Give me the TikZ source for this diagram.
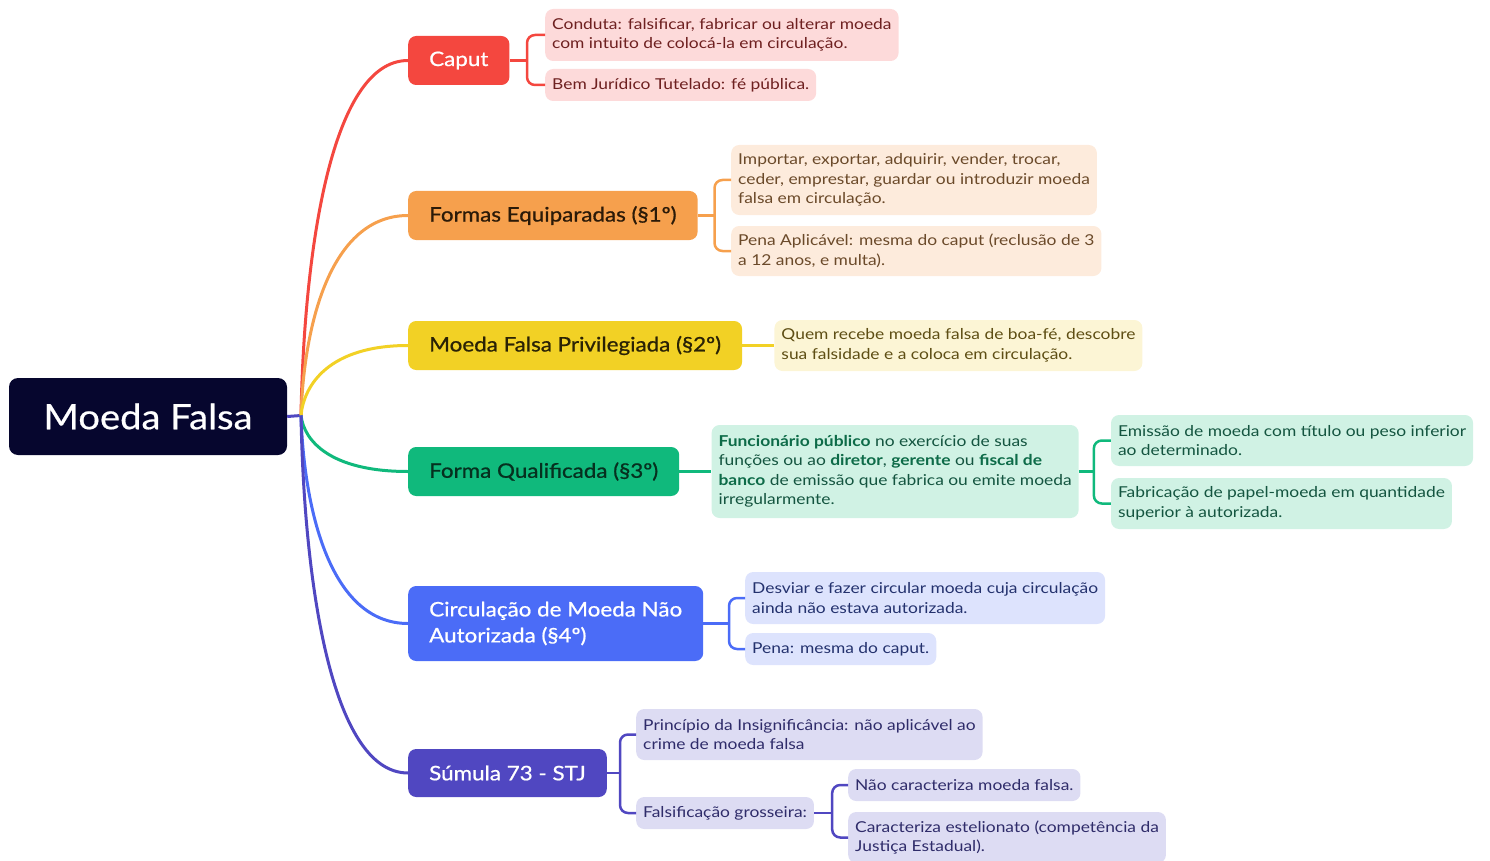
\documentclass[tikz,border=0pt]{standalone}
\usepackage{fontspec}
\setmainfont{Lato}[FakeStretch=1.16]
\newfontfamily\branchfont{Lato}[FakeBold=0.8, FakeStretch=1.12]
\newfontfamily\rootfont{Lato}[FakeBold=0.5, FakeStretch=1.09]
\usetikzlibrary{positioning,calc}

\definecolor{rootbg}{HTML}{06062E}
\definecolor{capred}{HTML}{F4473F}
\definecolor{capleaf}{HTML}{FDDADA}
\definecolor{captext}{HTML}{6E2020}
\definecolor{formorange}{HTML}{F6A04D}
\definecolor{formleaf}{HTML}{FDEBDC}
\definecolor{formtext}{HTML}{6B4A2A}
\definecolor{formfg}{HTML}{2B1A08}
\definecolor{privyellow}{HTML}{F2D125}
\definecolor{privleaf}{HTML}{FCF5D5}
\definecolor{privtext}{HTML}{5E4E14}
\definecolor{privfg}{HTML}{2A2205}
\definecolor{qualgreen}{HTML}{10B97C}
\definecolor{qualleaf}{HTML}{D0F2E4}
\definecolor{qualtext}{HTML}{145540}
\definecolor{qualbold}{HTML}{0D6B48}
\definecolor{qualfg}{HTML}{06301F}
\definecolor{circblue}{HTML}{4B6CF7}
\definecolor{circleaf}{HTML}{DDE3FD}
\definecolor{circtext}{HTML}{24326E}
\definecolor{sumindigo}{HTML}{5047C1}
\definecolor{sumleaf}{HTML}{DDDCF3}
\definecolor{sumtext}{HTML}{2F2C6A}

\newcommand{\destaque}[1]{{\color{qualbold}\bfseries #1}}

\begin{document}
\begin{tikzpicture}[x=1pt, y=-1pt, node distance=32pt,
    root/.style={rectangle, rounded corners=9pt, fill=rootbg, text=white, minimum width=278pt, minimum height=77pt, font=\rootfont\fontsize{35}{42}\selectfont},
    branch/.style={rectangle, rounded corners=8pt, anchor=west, inner xsep=21pt, inner ysep=0pt, minimum height=49pt, align=left, font=\branchfont\fontsize{20}{26}\selectfont},
    leaf/.style={rectangle, rounded corners=8pt, anchor=west, inner xsep=7pt, inner ysep=0pt, minimum height=32pt, align=left, font=\fontsize{15}{19.5}\selectfont},
    curve/.style={line width=3pt},
    bracket/.style={line width=2.5pt, rounded corners=8pt}]
        \useasboundingbox (0,0) rectangle (1490,861);

        \node[root] (moeda) at (148,416.5) {Moeda Falsa};
        \coordinate (hub) at (301,415.5);

        % branches
        \node[branch, fill=capred, text=white] (caput) at (408,60.5) {Caput};
        \node[branch, fill=formorange, text=formfg] (formas) at (408,215.5) {Formas Equiparadas (§1º)};
        \node[branch, fill=privyellow, text=privfg] (privil) at (408,345.5) {Moeda Falsa Privilegiada (§2º)};
        \node[branch, fill=qualgreen, text=qualfg] (qualif) at (408,471.5) {Forma Qualificada (§3º)};
        \node[branch, fill=circblue, text=white, minimum height=75pt] (circ) at (408,623.5) {Circulação de Moeda Não\\Autorizada (§4º)};
        \node[branch, fill=sumindigo, text=white, minimum height=48pt] (sumula) at (408,773) {Súmula 73 - STJ};

        % caput leaves
        \node[leaf, fill=capleaf, text=captext, minimum height=52pt] (conduta) at (545,35) {Conduta: falsificar, fabricar ou alterar moeda\\com intuito de colocá-la em circulação.};
        \node[leaf, fill=capleaf, text=captext] (bemjur) at (545,85) {Bem Jurídico Tutelado: fé pública.};

        % formas leaves
        \node[leaf, fill=formleaf, text=formtext, minimum height=70pt] (importar) at (731,180) {Importar, exportar, adquirir, vender, trocar,\\ceder, emprestar, guardar ou introduzir moeda\\falsa em circulação.};
        \node[leaf, fill=formleaf, text=formtext, minimum height=50pt] (penaap) at (731,251) {Pena Aplicável: mesma do caput (reclusão de 3\\a 12 anos, e multa).};

        % privilegiada leaf
        \node[leaf, fill=privleaf, text=privtext, minimum height=51pt, right=32pt of privil] (quem) {Quem recebe moeda falsa de boa-fé, descobre\\sua falsidade e a coloca em circulação.};

        % qualificada leaves
        \node[leaf, fill=qualleaf, text=qualtext, minimum height=93pt, right=32pt of qualif] (funcion) {\destaque{Funcionário público} no exercício de suas\\funções ou ao \destaque{diretor}, \destaque{gerente} ou \destaque{fiscal de}\\\destaque{banco} de emissão que fabrica ou emite moeda\\irregularmente.};
        \coordinate (qbk) at ($(funcion.east)+(15,0)$);
        \node[leaf, fill=qualleaf, text=qualtext, minimum height=51pt] (emissao) at ($(qbk)+(17,-31)$) {Emissão de moeda com título ou peso inferior\\ao determinado.};
        \node[leaf, fill=qualleaf, text=qualtext, minimum height=51pt] (fabric) at ($(qbk)+(17,32)$) {Fabricação de papel-moeda em quantidade\\superior à autorizada.};

        % circulacao leaves
        \node[leaf, fill=circleaf, text=circtext, minimum height=52pt] (desviar) at (745,598) {Desviar e fazer circular moeda cuja circulação\\ainda não estava autorizada.};
        \node[leaf, fill=circleaf, text=circtext] (penacap) at (745,649) {Pena: mesma do caput.};

        % sumula leaves
        \node[leaf, fill=sumleaf, text=sumtext, minimum height=51pt] (princ) at (636,734.5) {Princípio da Insignificância: não aplicável ao\\crime de moeda falsa};
        \node[leaf, fill=sumleaf, text=sumtext] (grosseira) at (636,813) {Falsificação grosseira:};
        \node[leaf, fill=sumleaf, text=sumtext] (naocar) at (848,785) {Não caracteriza moeda falsa.};
        \node[leaf, fill=sumleaf, text=sumtext, minimum height=51pt] (estelion) at (848,837.5) {Caracteriza estelionato (competência da\\Justiça Estadual).};

        % bracket points
        \coordinate (cbk) at (527,60.5);
        \coordinate (fbk) at (714.5,215.5);
        \coordinate (ebk) at (729,623.5);
        \coordinate (sbk) at (620,773);
        \coordinate (gbk) at ($(grosseira.east)+(18,0)$);

        % root to branches
        \draw[curve, sumindigo] (moeda.east) -- (hub);
        \draw[curve, capred] (hub) .. controls ($(hub)!.45!(hub |- caput.west)+(3,0)$) and ($(caput.west)+(-78,0)$) .. (caput.west);
        \draw[curve, formorange] (hub) .. controls ($(hub)!.45!(hub |- formas.west)+(3,0)$) and ($(formas.west)+(-78,0)$) .. (formas.west);
        \draw[curve, privyellow] (hub) .. controls ($(hub)!.45!(hub |- privil.west)+(3,0)$) and ($(privil.west)+(-78,0)$) .. (privil.west);
        \draw[curve, qualgreen] (hub) .. controls ($(hub)!.45!(hub |- qualif.west)+(3,0)$) and ($(qualif.west)+(-78,0)$) .. (qualif.west);
        \draw[curve, circblue] (hub) .. controls ($(hub)!.45!(hub |- circ.west)+(3,0)$) and ($(circ.west)+(-78,0)$) .. (circ.west);
        \draw[curve, sumindigo] (hub) .. controls ($(hub)!.45!(hub |- sumula.west)+(3,0)$) and ($(sumula.west)+(-78,0)$) .. (sumula.west);

        % branches to leaves
        \draw[bracket, capred] (caput.east) -- (cbk);
        \draw[bracket, capred] (conduta.west) -| (cbk) |- (bemjur.west);

        \draw[bracket, formorange] (formas.east) -- (fbk);
        \draw[bracket, formorange] (importar.west) -| (fbk) |- (penaap.west);

        \draw[bracket, privyellow] (privil.east) -- (quem.west);

        \draw[bracket, qualgreen] (qualif.east) -- (funcion.west);
        \draw[bracket, qualgreen] (funcion.east) -- (qbk);
        \draw[bracket, qualgreen] (emissao.west) -| (qbk) |- (fabric.west);

        \draw[bracket, circblue] (circ.east) -- (ebk);
        \draw[bracket, circblue] (desviar.west) -| (ebk) |- (penacap.west);

        \draw[bracket, sumindigo] (sumula.east) -- (sbk);
        \draw[bracket, sumindigo] (princ.west) -| (sbk) |- (grosseira.west);
        \draw[bracket, sumindigo] (grosseira.east) -- (gbk);
        \draw[bracket, sumindigo] (naocar.west) -| (gbk) |- (estelion.west);

\end{tikzpicture}
\end{document}
